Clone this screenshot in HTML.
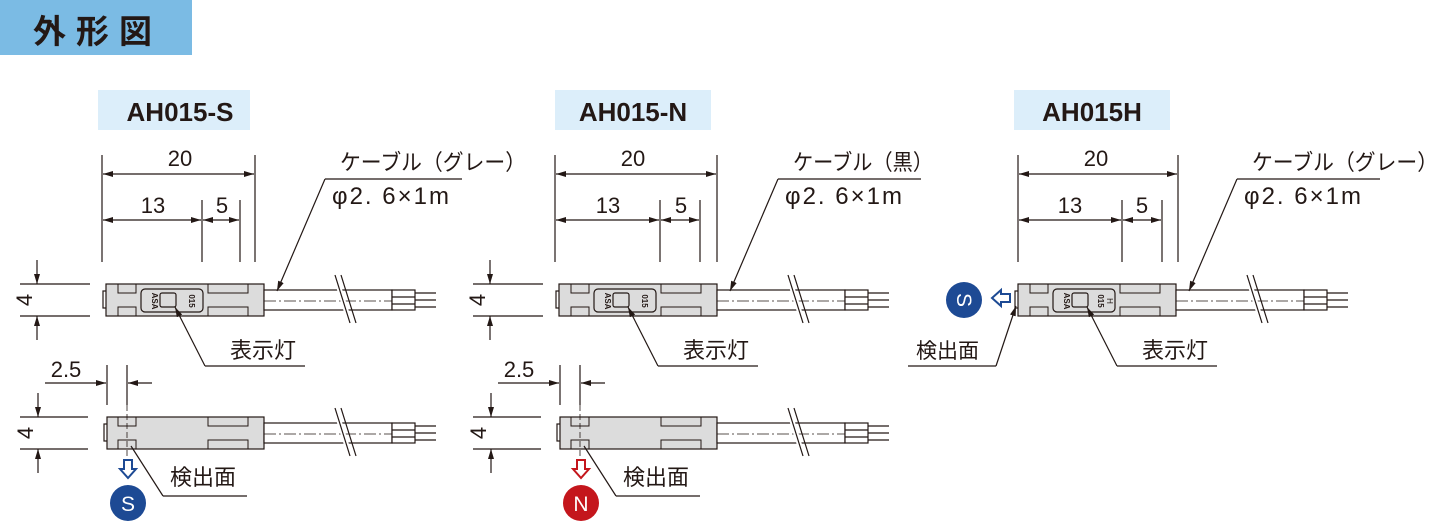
<!DOCTYPE html>
<html><head><meta charset="utf-8"><style>
body{margin:0;background:#fff;width:1453px;height:522px;overflow:hidden}
svg text{font-family:"Liberation Sans","Noto Sans CJK JP",sans-serif;fill:#231815}
</style></head><body>
<svg width="1453" height="522" viewBox="0 0 1453 522" xmlns="http://www.w3.org/2000/svg">
<defs>
<marker id="a" viewBox="0 0 10 6" refX="10" refY="3" markerWidth="10" markerHeight="6" orient="auto-start-reverse" markerUnits="userSpaceOnUse"><path d="M0,0 L10,3 L0,6z" fill="#231815"/></marker>
</defs>
<rect x="0" y="0" width="192" height="55" fill="#7bbbe4"/>
<text x="33" y="43" font-size="33" font-weight="bold" letter-spacing="10">外形図</text>

<g stroke="#231815" stroke-width="1.2" fill="none">
<rect x="98" y="90" width="152" height="40" fill="#dceefa" stroke="none"/>
<text x="180" y="121" font-size="26" font-weight="bold" text-anchor="middle" stroke="none">AH015-S</text>
<line x1="102" y1="155" x2="102" y2="262"/><line x1="255" y1="155" x2="255" y2="262"/>
<line x1="202" y1="200" x2="202" y2="262"/><line x1="240" y1="200" x2="240" y2="262"/>
<line x1="103" y1="174" x2="254" y2="174" marker-start="url(#a)" marker-end="url(#a)"/>
<line x1="103" y1="220" x2="201" y2="220" marker-start="url(#a)" marker-end="url(#a)"/>
<line x1="203" y1="220" x2="239" y2="220" marker-start="url(#a)" marker-end="url(#a)"/>
<text x="180" y="166" font-size="22" text-anchor="middle" stroke="none">20</text>
<text x="153" y="213" font-size="22" text-anchor="middle" stroke="none">13</text>
<text x="222" y="213" font-size="22" text-anchor="middle" stroke="none">5</text>
<line x1="20" y1="284" x2="90" y2="284"/><line x1="20" y1="316" x2="90" y2="316"/>
<line x1="37" y1="260" x2="37" y2="284" marker-end="url(#a)"/>
<line x1="37" y1="340" x2="37" y2="316" marker-end="url(#a)"/>
<text x="0" y="0" font-size="22" text-anchor="middle" stroke="none" transform="translate(32,300) rotate(-90)">4</text>
<rect x="103" y="291" width="4" height="17" fill="#fff"/>
<rect x="106" y="284" width="158" height="32" fill="#dcdcdc"/>
<path d="M118,284 v9 h18 v-9 M118,316 v-9 h18 v9 M208,284 v9 h40 v-9 M208,316 v-9 h40 v9" stroke-width="1"/>
<rect x="141" y="289" width="62" height="23" rx="4"/>
<rect x="160" y="293" width="16" height="14" rx="2"/>
<text x="0" y="0" font-size="8" font-weight="bold" stroke="none" transform="translate(152,301) rotate(90)" text-anchor="middle">ASA</text>
<text x="0" y="0" font-size="8" font-weight="bold" stroke="none" transform="translate(189,301) rotate(90)" text-anchor="middle">015</text>
<rect x="264" y="290" width="128" height="20" fill="#fff"/>
<line x1="264" y1="301" x2="392" y2="301" stroke-dasharray="12,3,2,3" stroke-width="0.8"/>
<rect x="392" y="290" width="23" height="20" fill="#fff"/>
<line x1="392" y1="297" x2="415" y2="297"/><line x1="392" y1="304" x2="415" y2="304"/>
<line x1="415" y1="293" x2="436" y2="293"/><line x1="415" y1="300" x2="436" y2="300"/><line x1="415" y1="307" x2="436" y2="307"/>
<line x1="335" y1="275" x2="350" y2="323" stroke="#fff" stroke-width="5"/>
<line x1="335" y1="275" x2="350" y2="323"/><line x1="341" y1="275" x2="356" y2="323"/>
<text x="340" y="170" font-size="22" stroke="none" textLength="186" lengthAdjust="spacingAndGlyphs">ケーブル（グレー）</text>
<text x="332" y="204" font-size="24" stroke="none" letter-spacing="2">φ2. 6×1m</text>
<line x1="325" y1="179" x2="462" y2="179"/>
<line x1="325" y1="179" x2="277" y2="291" marker-end="url(#a)"/>
<text x="230" y="358" font-size="22" stroke="none">表示灯</text>
<line x1="205" y1="366" x2="305" y2="366"/>
<line x1="205" y1="366" x2="175" y2="307" marker-end="url(#a)"/>
<line x1="107" y1="365" x2="107" y2="405"/><line x1="127" y1="365" x2="127" y2="405"/>
<line x1="45" y1="383" x2="106" y2="383" marker-end="url(#a)"/>
<line x1="152" y1="383" x2="128" y2="383" marker-end="url(#a)"/>
<text x="66" y="377" font-size="22" text-anchor="middle" stroke="none">2.5</text>
<line x1="20" y1="417" x2="88" y2="417"/><line x1="20" y1="449" x2="88" y2="449"/>
<line x1="38" y1="393" x2="38" y2="417" marker-end="url(#a)"/>
<line x1="38" y1="473" x2="38" y2="449" marker-end="url(#a)"/>
<text x="0" y="0" font-size="22" text-anchor="middle" stroke="none" transform="translate(33,433) rotate(-90)">4</text>
<rect x="104" y="424" width="4" height="17" fill="#fff"/>
<rect x="107" y="417" width="157" height="32" fill="#dcdcdc"/>
<path d="M118,417 v9 h18 v-9 M118,449 v-9 h18 v9 M208,417 v9 h40 v-9 M208,449 v-9 h40 v9" stroke-width="1"/>
<line x1="127" y1="405" x2="127" y2="460" stroke-dasharray="6,3" stroke-width="0.8"/>
<rect x="264" y="423" width="128" height="20" fill="#fff"/>
<line x1="264" y1="434" x2="392" y2="434" stroke-dasharray="12,3,2,3" stroke-width="0.8"/>
<rect x="392" y="423" width="23" height="20" fill="#fff"/>
<line x1="392" y1="430" x2="415" y2="430"/><line x1="392" y1="437" x2="415" y2="437"/>
<line x1="415" y1="426" x2="436" y2="426"/><line x1="415" y1="433" x2="436" y2="433"/><line x1="415" y1="440" x2="436" y2="440"/>
<line x1="335" y1="408" x2="350" y2="456" stroke="#fff" stroke-width="5"/>
<line x1="335" y1="408" x2="350" y2="456"/><line x1="341" y1="408" x2="356" y2="456"/>
<text x="170" y="485" font-size="22" stroke="none">検出面</text>
<line x1="163" y1="496" x2="247" y2="496"/>
<line x1="163" y1="496" x2="131" y2="446"/>
</g>
<path d="M124,460 h8 v9 h4 l-8,9 l-8,-9 h4z" fill="#fff" stroke="#1d4a94" stroke-width="2"/>
<circle cx="128" cy="503" r="18" fill="#1d4a94"/>
<text x="128" y="511" font-size="21" text-anchor="middle" style="fill:#fff">S</text>

<g stroke="#231815" stroke-width="1.2" fill="none" transform="translate(453,0)">
<rect x="102" y="90" width="156" height="40" fill="#dceefa" stroke="none"/>
<text x="180" y="121" font-size="26" font-weight="bold" text-anchor="middle" stroke="none">AH015-N</text>
<line x1="102" y1="155" x2="102" y2="262"/><line x1="264" y1="155" x2="264" y2="262"/>
<line x1="207" y1="200" x2="207" y2="262"/><line x1="247" y1="200" x2="247" y2="262"/>
<line x1="103" y1="174" x2="263" y2="174" marker-start="url(#a)" marker-end="url(#a)"/>
<line x1="103" y1="220" x2="206" y2="220" marker-start="url(#a)" marker-end="url(#a)"/>
<line x1="208" y1="220" x2="246" y2="220" marker-start="url(#a)" marker-end="url(#a)"/>
<text x="180" y="166" font-size="22" text-anchor="middle" stroke="none">20</text>
<text x="155" y="213" font-size="22" text-anchor="middle" stroke="none">13</text>
<text x="228" y="213" font-size="22" text-anchor="middle" stroke="none">5</text>
<line x1="20" y1="284" x2="90" y2="284"/><line x1="20" y1="316" x2="90" y2="316"/>
<line x1="37" y1="260" x2="37" y2="284" marker-end="url(#a)"/>
<line x1="37" y1="340" x2="37" y2="316" marker-end="url(#a)"/>
<text x="0" y="0" font-size="22" text-anchor="middle" stroke="none" transform="translate(32,300) rotate(-90)">4</text>
<rect x="103" y="291" width="4" height="17" fill="#fff"/>
<rect x="106" y="284" width="158" height="32" fill="#dcdcdc"/>
<path d="M118,284 v9 h18 v-9 M118,316 v-9 h18 v9 M208,284 v9 h40 v-9 M208,316 v-9 h40 v9" stroke-width="1"/>
<rect x="141" y="289" width="62" height="23" rx="4"/>
<rect x="160" y="293" width="16" height="14" rx="2"/>
<text x="0" y="0" font-size="8" font-weight="bold" stroke="none" transform="translate(152,301) rotate(90)" text-anchor="middle">ASA</text>
<text x="0" y="0" font-size="8" font-weight="bold" stroke="none" transform="translate(189,301) rotate(90)" text-anchor="middle">015</text>
<rect x="264" y="290" width="128" height="20" fill="#fff"/>
<line x1="264" y1="301" x2="392" y2="301" stroke-dasharray="12,3,2,3" stroke-width="0.8"/>
<rect x="392" y="290" width="23" height="20" fill="#fff"/>
<line x1="392" y1="297" x2="415" y2="297"/><line x1="392" y1="304" x2="415" y2="304"/>
<line x1="415" y1="293" x2="436" y2="293"/><line x1="415" y1="300" x2="436" y2="300"/><line x1="415" y1="307" x2="436" y2="307"/>
<line x1="335" y1="275" x2="350" y2="323" stroke="#fff" stroke-width="5"/>
<line x1="335" y1="275" x2="350" y2="323"/><line x1="341" y1="275" x2="356" y2="323"/>
<text x="340" y="170" font-size="22" stroke="none" textLength="140" lengthAdjust="spacingAndGlyphs">ケーブル（黒）</text>
<text x="332" y="204" font-size="24" stroke="none" letter-spacing="2">φ2. 6×1m</text>
<line x1="325" y1="179" x2="468" y2="179"/>
<line x1="325" y1="179" x2="277" y2="291" marker-end="url(#a)"/>
<text x="230" y="358" font-size="22" stroke="none">表示灯</text>
<line x1="205" y1="366" x2="305" y2="366"/>
<line x1="205" y1="366" x2="175" y2="307" marker-end="url(#a)"/>
<line x1="107" y1="365" x2="107" y2="405"/><line x1="127" y1="365" x2="127" y2="405"/>
<line x1="45" y1="383" x2="106" y2="383" marker-end="url(#a)"/>
<line x1="152" y1="383" x2="128" y2="383" marker-end="url(#a)"/>
<text x="66" y="377" font-size="22" text-anchor="middle" stroke="none">2.5</text>
<line x1="20" y1="417" x2="88" y2="417"/><line x1="20" y1="449" x2="88" y2="449"/>
<line x1="38" y1="393" x2="38" y2="417" marker-end="url(#a)"/>
<line x1="38" y1="473" x2="38" y2="449" marker-end="url(#a)"/>
<text x="0" y="0" font-size="22" text-anchor="middle" stroke="none" transform="translate(33,433) rotate(-90)">4</text>
<rect x="104" y="424" width="4" height="17" fill="#fff"/>
<rect x="107" y="417" width="157" height="32" fill="#dcdcdc"/>
<path d="M118,417 v9 h18 v-9 M118,449 v-9 h18 v9 M208,417 v9 h40 v-9 M208,449 v-9 h40 v9" stroke-width="1"/>
<line x1="127" y1="405" x2="127" y2="460" stroke-dasharray="6,3" stroke-width="0.8"/>
<rect x="264" y="423" width="128" height="20" fill="#fff"/>
<line x1="264" y1="434" x2="392" y2="434" stroke-dasharray="12,3,2,3" stroke-width="0.8"/>
<rect x="392" y="423" width="23" height="20" fill="#fff"/>
<line x1="392" y1="430" x2="415" y2="430"/><line x1="392" y1="437" x2="415" y2="437"/>
<line x1="415" y1="426" x2="436" y2="426"/><line x1="415" y1="433" x2="436" y2="433"/><line x1="415" y1="440" x2="436" y2="440"/>
<line x1="335" y1="408" x2="350" y2="456" stroke="#fff" stroke-width="5"/>
<line x1="335" y1="408" x2="350" y2="456"/><line x1="341" y1="408" x2="356" y2="456"/>
<text x="170" y="485" font-size="22" stroke="none">検出面</text>
<line x1="163" y1="496" x2="247" y2="496"/>
<line x1="163" y1="496" x2="131" y2="446"/>
</g>
<path d="M577,460 h8 v9 h4 l-8,9 l-8,-9 h4z" fill="#fff" stroke="#c4161c" stroke-width="2"/>
<circle cx="581" cy="503" r="18" fill="#c4161c"/>
<text x="581" y="511" font-size="21" text-anchor="middle" style="fill:#fff">N</text>

<g stroke="#231815" stroke-width="1.2" fill="none" transform="translate(912,0)">
<rect x="102" y="90" width="156" height="40" fill="#dceefa" stroke="none"/>
<text x="180" y="121" font-size="26" font-weight="bold" text-anchor="middle" stroke="none">AH015H</text>
<line x1="106" y1="155" x2="106" y2="262"/><line x1="266" y1="155" x2="266" y2="262"/>
<line x1="210" y1="200" x2="210" y2="262"/><line x1="250" y1="200" x2="250" y2="262"/>
<line x1="107" y1="174" x2="265" y2="174" marker-start="url(#a)" marker-end="url(#a)"/>
<line x1="107" y1="220" x2="209" y2="220" marker-start="url(#a)" marker-end="url(#a)"/>
<line x1="211" y1="220" x2="249" y2="220" marker-start="url(#a)" marker-end="url(#a)"/>
<text x="184" y="166" font-size="22" text-anchor="middle" stroke="none">20</text>
<text x="158" y="213" font-size="22" text-anchor="middle" stroke="none">13</text>
<text x="230" y="213" font-size="22" text-anchor="middle" stroke="none">5</text>
<rect x="103" y="291" width="4" height="17" fill="#fff"/>
<rect x="106" y="284" width="158" height="32" fill="#dcdcdc"/>
<path d="M118,284 v9 h18 v-9 M118,316 v-9 h18 v9 M208,284 v9 h40 v-9 M208,316 v-9 h40 v9" stroke-width="1"/>
<rect x="141" y="289" width="62" height="23" rx="4"/>
<rect x="160" y="293" width="16" height="14" rx="2"/>
<text x="0" y="0" font-size="8" font-weight="bold" stroke="none" transform="translate(152,301) rotate(90)" text-anchor="middle">ASA</text>
<text x="0" y="0" font-size="8" font-weight="bold" stroke="none" transform="translate(186,301) rotate(90)" text-anchor="middle">015</text>
<text x="0" y="0" font-size="8" stroke="none" transform="translate(195,301) rotate(90)" text-anchor="middle">H</text>
<rect x="264" y="290" width="128" height="20" fill="#fff"/>
<line x1="264" y1="301" x2="392" y2="301" stroke-dasharray="12,3,2,3" stroke-width="0.8"/>
<rect x="392" y="290" width="23" height="20" fill="#fff"/>
<line x1="392" y1="297" x2="415" y2="297"/><line x1="392" y1="304" x2="415" y2="304"/>
<line x1="415" y1="293" x2="436" y2="293"/><line x1="415" y1="300" x2="436" y2="300"/><line x1="415" y1="307" x2="436" y2="307"/>
<line x1="335" y1="275" x2="350" y2="323" stroke="#fff" stroke-width="5"/>
<line x1="335" y1="275" x2="350" y2="323"/><line x1="341" y1="275" x2="356" y2="323"/>
<text x="340" y="170" font-size="22" stroke="none" textLength="186" lengthAdjust="spacingAndGlyphs">ケーブル（グレー）</text>
<text x="332" y="204" font-size="24" stroke="none" letter-spacing="2">φ2. 6×1m</text>
<line x1="325" y1="179" x2="468" y2="179"/>
<line x1="325" y1="179" x2="277" y2="291" marker-end="url(#a)"/>
<text x="230" y="358" font-size="22" stroke="none">表示灯</text>
<line x1="205" y1="366" x2="305" y2="366"/>
<line x1="205" y1="366" x2="175" y2="307" marker-end="url(#a)"/>
<text x="4" y="358" font-size="21" stroke="none">検出面</text>
<line x1="-4" y1="366" x2="84" y2="366"/>
<line x1="84" y1="366" x2="104" y2="306" marker-end="url(#a)"/>
</g>
<path d="M1010,294 v8 h-9 v4 l-9,-8 l9,-8 v4z" fill="#fff" stroke="#1d4a94" stroke-width="2"/>
<circle cx="964" cy="300" r="18" fill="#1d4a94"/>
<text x="0" y="0" font-size="21" text-anchor="middle" style="fill:#fff" transform="translate(957,300) rotate(90)">S</text>
</svg>
</body></html>
